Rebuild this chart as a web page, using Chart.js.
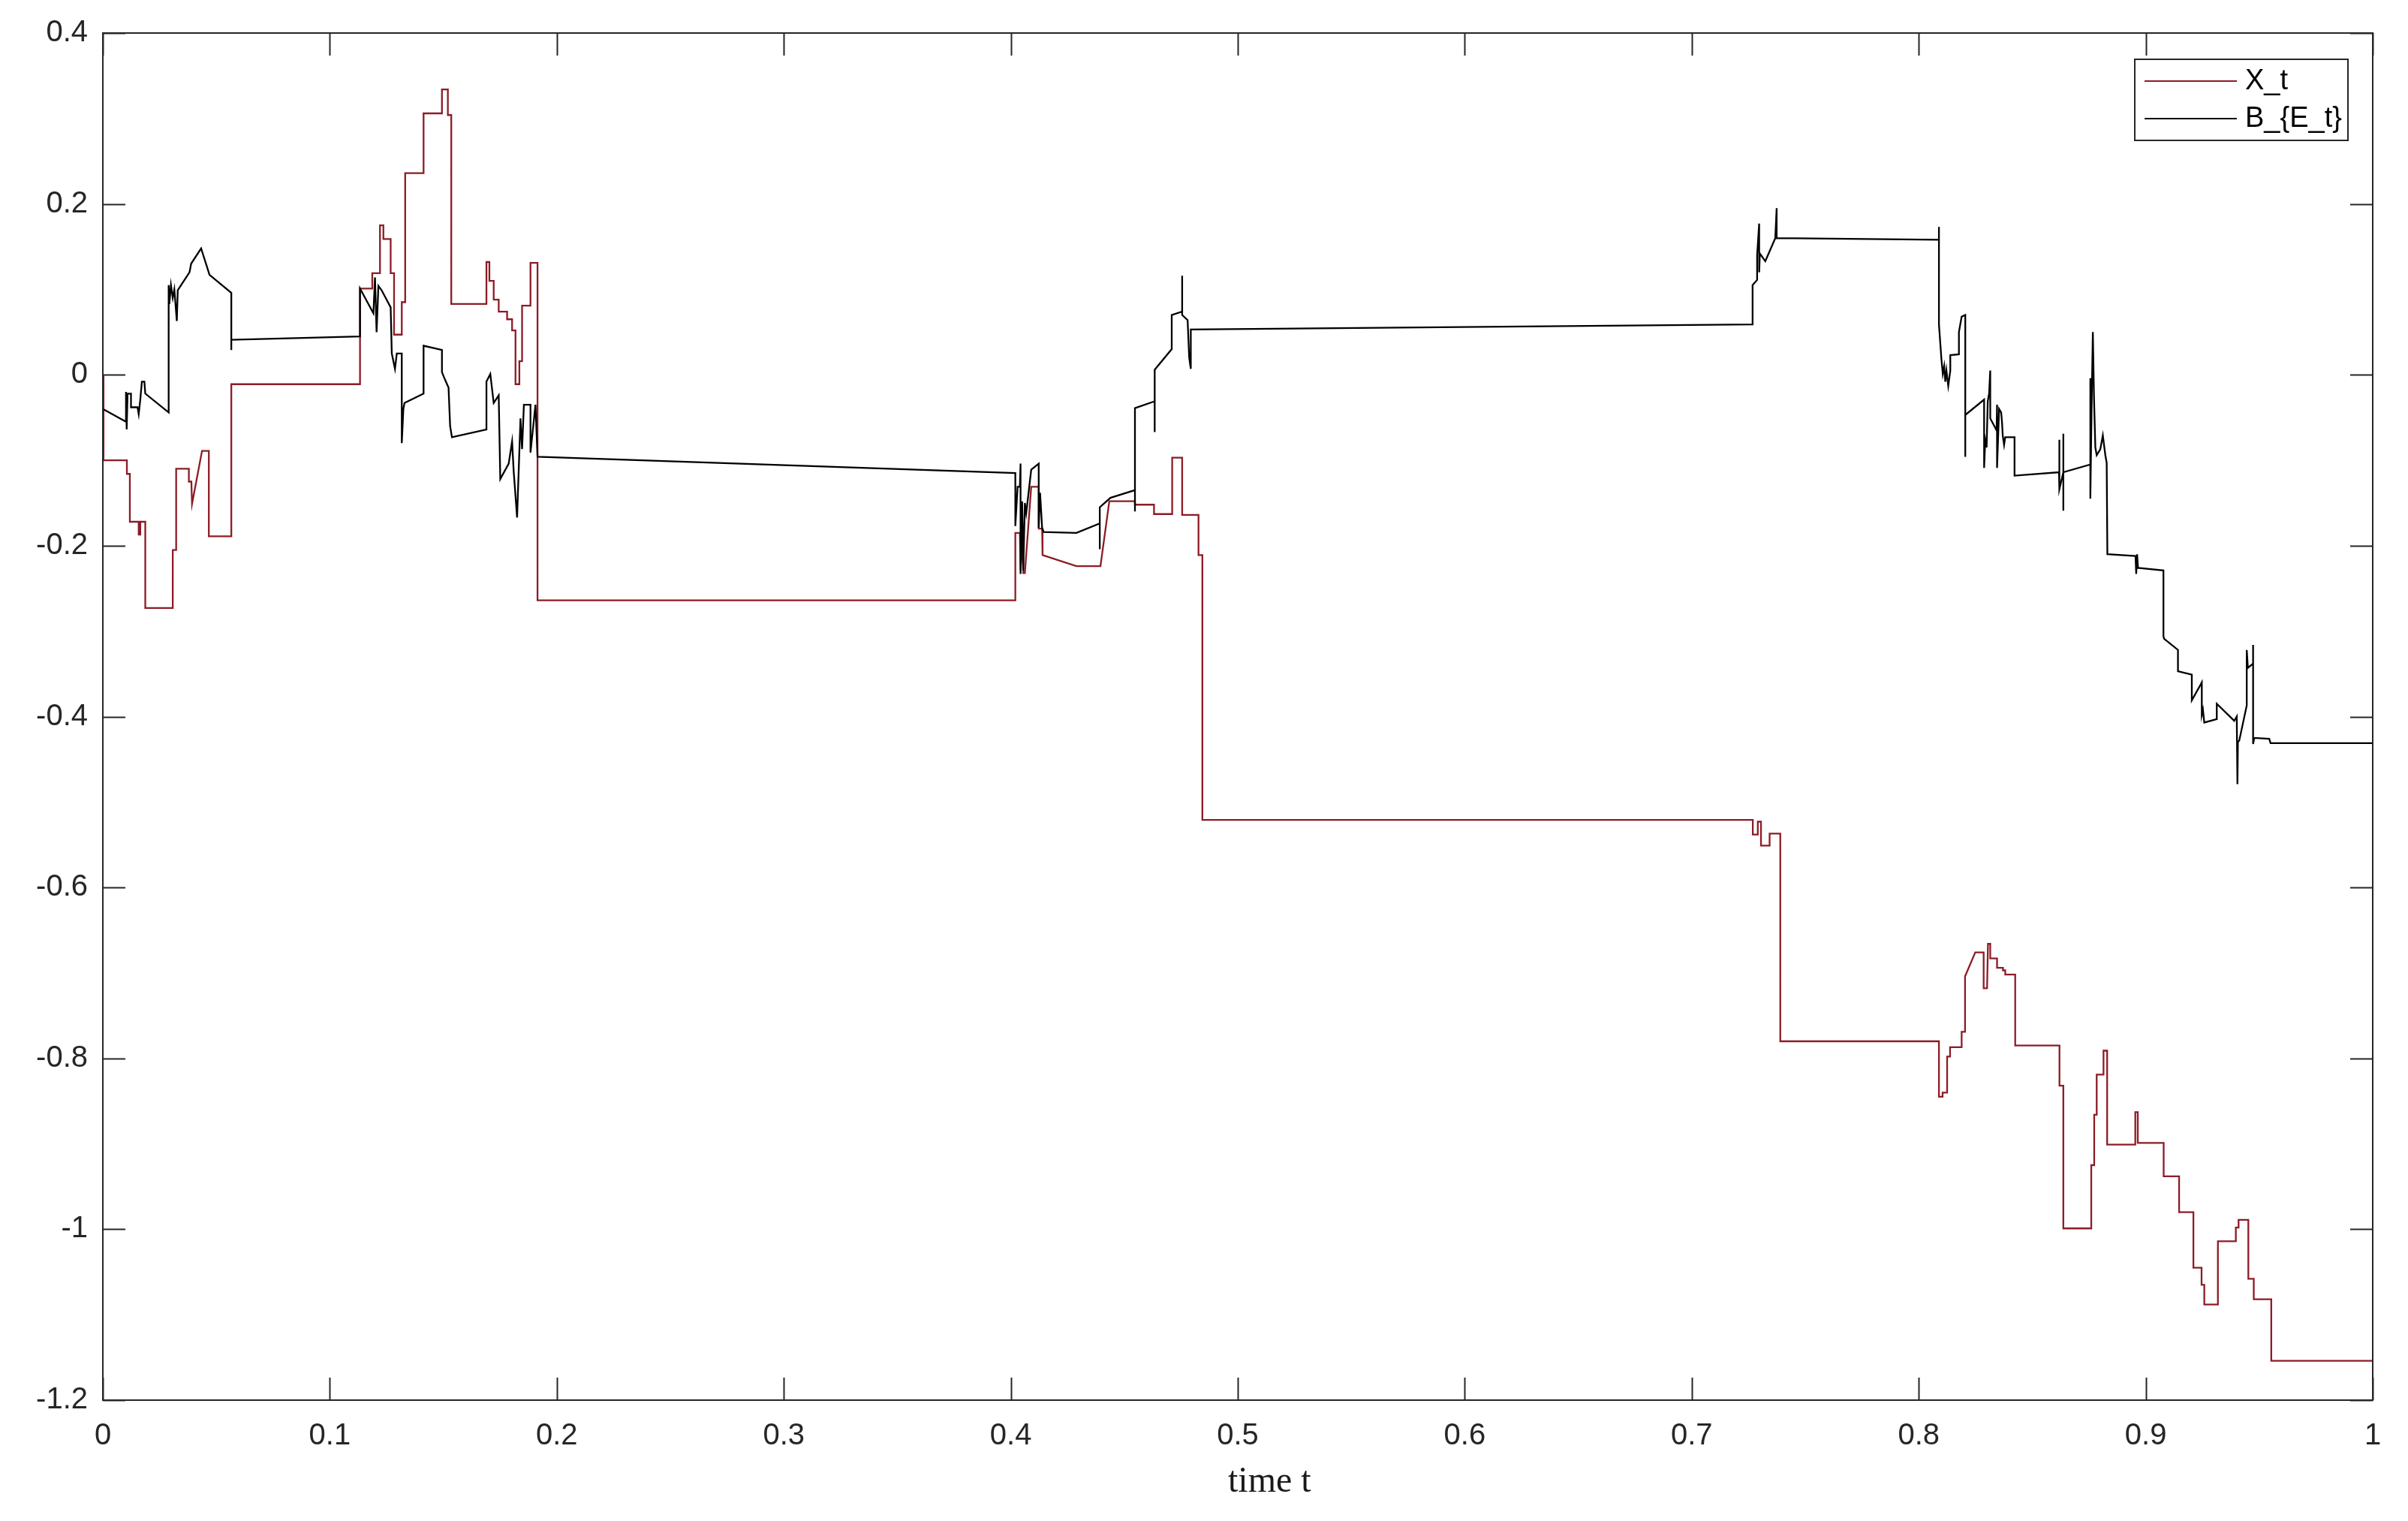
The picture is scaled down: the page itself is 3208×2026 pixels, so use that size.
<!DOCTYPE html>
<html>
<head>
<meta charset="utf-8">
<script src="https://cdn.jsdelivr.net/npm/chart.js@4.4.1/dist/chart.umd.min.js"></script>
<style>
  html, body { margin: 0; padding: 0; background: #fff; }
  #wrap { width: 3208px; height: 2026px; }
</style>
</head>
<body>
<div id="wrap"><canvas id="chart" width="3208" height="2026"></canvas></div>
<script>
// series as [time t, value] vertices
const xtPath = [
  [0,0],[0.0003,-0.1],[0.0106,-0.1],[0.0106,-0.116],[0.0119,-0.116],[0.0119,-0.172],[0.0158,-0.172],[0.0158,-0.187],
  [0.0165,-0.187],[0.0165,-0.172],[0.0187,-0.172],[0.0187,-0.273],[0.0308,-0.273],[0.0308,-0.205],[0.0323,-0.205],
  [0.0323,-0.11],[0.0379,-0.11],[0.0379,-0.125],[0.039,-0.125],[0.0393,-0.151],[0.0437,-0.089],[0.0467,-0.089],
  [0.0467,-0.189],[0.0566,-0.189],[0.0566,-0.011],[0.1133,-0.011],[0.1133,0.101],[0.1187,0.101],[0.1187,0.119],
  [0.1221,0.119],[0.1221,0.175],[0.1236,0.175],[0.1236,0.159],[0.1268,0.159],[0.1268,0.119],[0.1283,0.119],
  [0.1283,0.047],[0.1317,0.047],[0.1317,0.085],[0.1332,0.085],[0.1332,0.236],[0.1413,0.236],[0.1413,0.306],
  [0.1494,0.306],[0.1494,0.334],[0.152,0.334],[0.152,0.304],[0.1535,0.304],[0.1535,0.083],[0.169,0.083],
  [0.169,0.132],[0.1703,0.132],[0.1703,0.11],[0.1722,0.11],[0.1722,0.088],[0.1744,0.088],[0.1744,0.074],
  [0.1781,0.074],[0.1781,0.065],[0.1803,0.065],[0.1803,0.052],[0.1818,0.052],[0.1818,-0.011],[0.1835,-0.011],
  [0.1835,0.016],[0.1847,0.016],[0.1847,0.081],[0.1884,0.081],[0.1884,0.131],[0.1915,0.131],[0.1915,-0.264],
  [0.402,-0.264],[0.402,-0.185],[0.404,-0.185],[0.4043,-0.229],[0.405,-0.19],[0.4055,-0.232],[0.4062,-0.232],
  [0.409,-0.131],[0.4123,-0.131],[0.4123,-0.18],[0.4138,-0.18],[0.414,-0.211],[0.4289,-0.224],[0.4395,-0.224],
  [0.4434,-0.148],[0.4547,-0.148],[0.4547,-0.152],[0.4631,-0.152],[0.4631,-0.163],[0.4711,-0.163],[0.4711,-0.097],
  [0.4755,-0.097],[0.4755,-0.164],[0.4827,-0.164],[0.4827,-0.211],[0.4844,-0.211],[0.4844,-0.521],[0.7269,-0.521],
  [0.7269,-0.538],[0.7291,-0.538],[0.7291,-0.523],[0.7305,-0.523],[0.7305,-0.551],[0.7343,-0.551],[0.7343,-0.537],
  [0.739,-0.537],[0.739,-0.78],[0.8089,-0.78],[0.8089,-0.845],[0.8105,-0.845],[0.8105,-0.84],[0.8125,-0.84],
  [0.8125,-0.798],[0.8138,-0.798],[0.8138,-0.787],[0.8189,-0.787],[0.8189,-0.769],[0.8204,-0.769],[0.8204,-0.704],
  [0.8249,-0.676],[0.8286,-0.676],[0.8286,-0.718],[0.8301,-0.718],[0.8305,-0.666],[0.8315,-0.666],[0.8315,-0.683],
  [0.8345,-0.683],[0.8345,-0.694],[0.8371,-0.694],[0.8371,-0.697],[0.8381,-0.697],[0.8381,-0.702],[0.8425,-0.702],
  [0.8425,-0.785],[0.862,-0.785],[0.862,-0.832],[0.8637,-0.832],[0.8637,-0.999],[0.876,-0.999],[0.876,-0.925],
  [0.8773,-0.925],[0.8773,-0.866],[0.8784,-0.866],[0.8784,-0.819],[0.8814,-0.819],[0.8814,-0.791],[0.883,-0.791],
  [0.883,-0.901],[0.8954,-0.901],[0.8954,-0.863],[0.8965,-0.863],[0.8965,-0.899],[0.9079,-0.899],[0.9079,-0.938],
  [0.9147,-0.938],[0.9147,-0.98],[0.921,-0.98],[0.921,-1.045],[0.9246,-1.045],[0.9246,-1.065],[0.9258,-1.065],
  [0.9258,-1.088],[0.9318,-1.088],[0.9318,-1.014],[0.9397,-1.014],[0.9397,-0.998],[0.9409,-0.998],[0.9409,-0.989],
  [0.9452,-0.989],[0.9452,-1.058],[0.9476,-1.058],[0.9476,-1.082],[0.9553,-1.082],[0.9553,-1.154],[1,-1.154]
];

const bePath = [
  [0,-0.04],[0.0102,-0.055],[0.0102,-0.02],[0.0105,-0.064],[0.0109,-0.022],[0.0124,-0.022],[0.0124,-0.038],
  [0.0153,-0.038],[0.0158,-0.046],[0.0165,-0.029],[0.0172,-0.008],[0.0183,-0.008],[0.0187,-0.022],[0.029,-0.044],
  [0.029,0.105],[0.0293,0.083],[0.03,0.105],[0.0308,0.09],[0.0315,0.1],[0.0326,0.063],[0.033,0.099],[0.0382,0.12],
  [0.0389,0.13],[0.0433,0.148],[0.047,0.117],[0.0566,0.096],[0.0566,0.029],[0.0566,0.041],[0.1133,0.045],
  [0.1133,0.101],[0.1192,0.072],[0.1199,0.114],[0.1206,0.05],[0.1214,0.104],[0.1228,0.099],[0.1268,0.079],
  [0.1273,0.025],[0.1287,0.007],[0.1295,0.025],[0.1317,0.025],[0.1317,-0.08],[0.1324,-0.04],[0.1329,-0.033],
  [0.1413,-0.022],[0.1413,0.034],[0.1494,0.029],[0.1494,0.003],[0.1508,-0.006],[0.1523,-0.015],[0.153,-0.06],
  [0.1538,-0.073],[0.169,-0.064],[0.169,-0.008],[0.1707,0.001],[0.1722,-0.033],[0.1744,-0.024],[0.1751,-0.122],
  [0.1788,-0.104],[0.1803,-0.078],[0.181,-0.113],[0.1825,-0.167],[0.184,-0.051],[0.1847,-0.087],[0.1855,-0.035],
  [0.1884,-0.035],[0.1884,-0.091],[0.1906,-0.035],[0.1915,-0.096],[0.402,-0.115],[0.402,-0.177],[0.403,-0.131],
  [0.404,-0.131],[0.4043,-0.104],[0.4043,-0.233],[0.405,-0.148],[0.4055,-0.229],[0.4062,-0.15],[0.4068,-0.162],
  [0.409,-0.111],[0.4123,-0.104],[0.4123,-0.179],[0.4129,-0.138],[0.4138,-0.179],[0.4145,-0.184],[0.4289,-0.185],
  [0.4392,-0.174],[0.4392,-0.204],[0.4392,-0.155],[0.4439,-0.144],[0.4547,-0.135],[0.4547,-0.16],[0.4547,-0.039],
  [0.4634,-0.031],[0.4634,-0.067],[0.4634,0.006],[0.4709,0.03],[0.4709,0.07],[0.4755,0.074],[0.4755,0.116],
  [0.4755,0.07],[0.4779,0.064],[0.4786,0.02],[0.4793,0.007],[0.4793,0.053],[0.7268,0.059],[0.7268,0.105],
  [0.7288,0.111],[0.7288,0.14],[0.7297,0.177],[0.7297,0.12],[0.73,0.142],[0.7324,0.133],[0.7368,0.16],
  [0.7374,0.195],[0.7374,0.16],[0.8089,0.158],[0.8089,0.173],[0.8089,0.059],[0.81,0.018],[0.8106,0.001],
  [0.8112,0.01],[0.8117,-0.008],[0.8122,0.005],[0.813,-0.013],[0.8139,0.005],[0.8139,0.023],[0.8177,0.024],
  [0.8177,0.05],[0.8189,0.068],[0.8205,0.07],[0.8205,-0.096],[0.8205,-0.047],[0.8288,-0.029],[0.8288,-0.109],
  [0.8293,-0.076],[0.8299,-0.085],[0.8304,-0.031],[0.831,-0.022],[0.8315,0.005],[0.8315,-0.051],[0.8343,-0.065],
  [0.8345,-0.035],[0.8345,-0.109],[0.8354,-0.04],[0.8363,-0.044],[0.8367,-0.056],[0.837,-0.071],[0.8376,-0.082],
  [0.8381,-0.073],[0.8422,-0.073],[0.8422,-0.118],[0.8618,-0.114],[0.8618,-0.076],[0.8621,-0.134],[0.8637,-0.114],
  [0.8637,-0.069],[0.8637,-0.159],[0.8637,-0.114],[0.8756,-0.105],[0.8756,-0.004],[0.8756,-0.145],[0.8762,-0.03],
  [0.8767,0.05],[0.8772,-0.026],[0.8778,-0.085],[0.8784,-0.094],[0.88,-0.087],[0.8811,-0.071],[0.8822,-0.094],
  [0.8828,-0.103],[0.8831,-0.21],[0.8955,-0.212],[0.8958,-0.233],[0.8962,-0.21],[0.8966,-0.226],[0.9078,-0.229],
  [0.9078,-0.306],[0.9081,-0.309],[0.9142,-0.322],[0.9142,-0.347],[0.9203,-0.351],[0.9203,-0.381],[0.9241,-0.363],
  [0.9247,-0.36],[0.9247,-0.398],[0.9252,-0.392],[0.9258,-0.407],[0.9313,-0.403],[0.9313,-0.385],[0.939,-0.405],
  [0.9401,-0.4],[0.9404,-0.479],[0.9406,-0.43],[0.9412,-0.428],[0.9445,-0.387],[0.9445,-0.322],[0.945,-0.343],
  [0.9473,-0.338],[0.9473,-0.316],[0.9473,-0.432],[0.9478,-0.425],[0.9544,-0.426],[0.955,-0.431],[1,-0.431]
];

const seriesNames = ['X_t', 'B_{E_t}'];
const seriesColors = ['#8C1C26', '#000000'];
const xRange = [0, 1, 0.1];
const yRange = [-1.2, 0.4, 0.2];
const axisTitle = 'time t';

const AXIS_COLOR = '#262626';
const TICK_LEN = 30;

const toPoints = (path) => path.map(([t, v]) => ({x: t, y: v}));
const fmt = (v) => String(+(+v).toFixed(1));

// matlab-ish box with inward ticks on all four sides, the x title, and the boxed legend
const matlabAxes = {
  id: 'matlabAxes',
  afterDraw(chart) {
    const {ctx, chartArea: a, scales: {x, y}} = chart;
    ctx.save();
    ctx.strokeStyle = AXIS_COLOR;
    ctx.lineWidth = 2;
    ctx.beginPath();
    x.ticks.forEach((tk, i) => {
      const px = Math.round(x.getPixelForTick(i)) + 0.5;
      ctx.moveTo(px, a.bottom); ctx.lineTo(px, a.bottom - TICK_LEN);
      ctx.moveTo(px, a.top); ctx.lineTo(px, a.top + TICK_LEN);
    });
    y.ticks.forEach((tk, i) => {
      const py = Math.round(y.getPixelForTick(i)) + 0.5;
      ctx.moveTo(a.left, py); ctx.lineTo(a.left + TICK_LEN, py);
      ctx.moveTo(a.right, py); ctx.lineTo(a.right - TICK_LEN, py);
    });
    ctx.stroke();
    ctx.strokeRect(a.left, a.top, a.right - a.left, a.bottom - a.top);

    // axis title, a little right of centre as in the figure
    ctx.fillStyle = '#1a1a1a';
    ctx.font = '48px "Liberation Serif", "Times New Roman", serif';
    ctx.textAlign = 'center';
    ctx.textBaseline = 'alphabetic';
    ctx.fillText(axisTitle, x.getPixelForValue(0.514), a.bottom + 122);

    // legend
    const bw = 284, bh = 108;
    const bx = a.right - 33 - bw, by = a.top + 35;
    ctx.fillStyle = '#ffffff';
    ctx.fillRect(bx, by, bw, bh);
    ctx.strokeStyle = AXIS_COLOR;
    ctx.lineWidth = 2;
    ctx.strokeRect(bx, by, bw, bh);
    ctx.font = '38px "Liberation Sans", Arial, sans-serif';
    ctx.textBaseline = 'middle';
    ctx.textAlign = 'left';
    chart.data.datasets.forEach((ds, i) => {
      const ly = by + 29 + i * 50;
      ctx.strokeStyle = ds.borderColor;
      ctx.lineWidth = 2;
      ctx.beginPath();
      ctx.moveTo(bx + 13, ly); ctx.lineTo(bx + 136, ly);
      ctx.stroke();
      ctx.fillStyle = '#000000';
      ctx.fillText(ds.label, bx + 147, ly + 1);
    });
    ctx.restore();
  }
};

const chart = new Chart(document.getElementById('chart'), {
  type: 'line',
  data: {
    datasets: [
      {label: seriesNames[0], data: toPoints(xtPath), borderColor: seriesColors[0], order: 1},
      {label: seriesNames[1], data: toPoints(bePath), borderColor: seriesColors[1], order: 0},
    ]
  },
  options: {
    responsive: false,
    animation: false,
    devicePixelRatio: 1,
    layout: {padding: {top: 44, right: 47, bottom: 0, left: 0}},
    elements: {
      point: {radius: 0},
      line: {borderWidth: 2.3, tension: 0, fill: false, borderJoinStyle: 'miter'}
    },
    plugins: {
      legend: {display: false},
      tooltip: {enabled: false}
    },
    scales: {
      x: {
        type: 'linear',
        min: xRange[0], max: xRange[1],
        afterFit: (s) => { s.height = 161; },
        grid: {display: false, drawTicks: false},
        border: {display: false},
        ticks: {
          stepSize: xRange[2], padding: 24, maxRotation: 0, autoSkip: false,
          color: AXIS_COLOR,
          font: {family: '"Liberation Sans", Arial, sans-serif', size: 40},
          callback: fmt
        }
      },
      y: {
        type: 'linear',
        min: yRange[0], max: yRange[1],
        afterFit: (s) => { s.width = 137; },
        grid: {display: false, drawTicks: false},
        border: {display: false},
        ticks: {
          stepSize: yRange[2], padding: 20, autoSkip: false,
          color: AXIS_COLOR,
          font: {family: '"Liberation Sans", Arial, sans-serif', size: 40},
          callback: fmt
        }
      }
    }
  },
  plugins: [matlabAxes]
});
</script>
</body>
</html>
